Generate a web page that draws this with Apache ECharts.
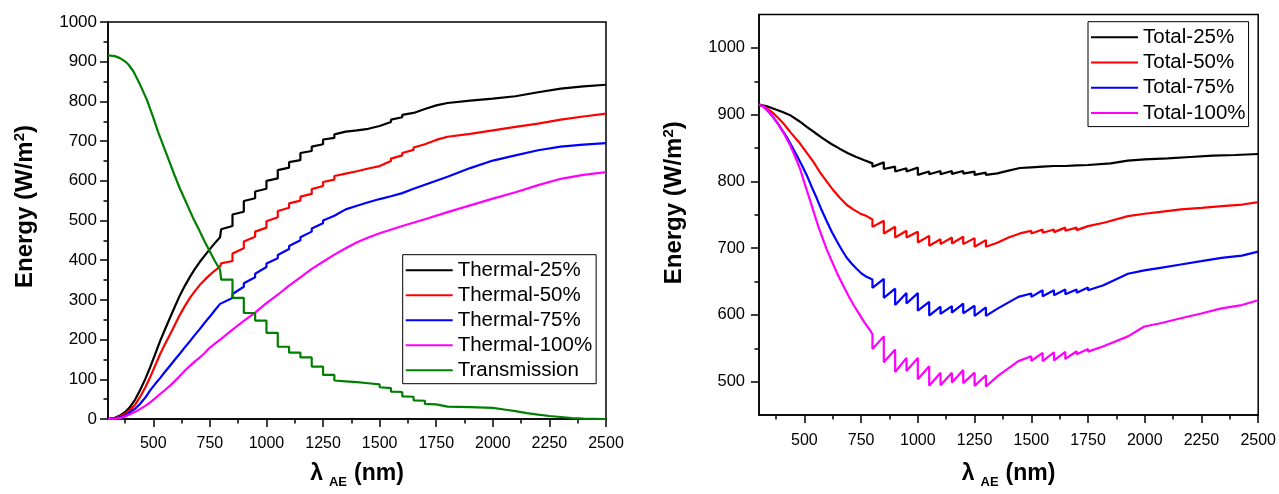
<!DOCTYPE html>
<html>
<head>
<meta charset="utf-8">
<script src="https://cdn.jsdelivr.net/npm/echarts@6/dist/echarts.min.js"></script>
<style>
html,body{margin:0;padding:0;background:#fff;}
#chart{width:1279px;height:494px;}
</style>
</head>
<body>
<div id="chart"></div>
<script>
// ---------- data ----------
const xMajorTicks = [500, 750, 1000, 1250, 1500, 1750, 2000, 2250, 2500];
const xMinorTicks = [375, 625, 875, 1125, 1375, 1625, 1875, 2125, 2375];
const rightYMajor = [500, 600, 700, 800, 900, 1000];
const rightYMinor = [550, 650, 750, 850, 950];

const leftNames = ['Thermal-25%', 'Thermal-50%', 'Thermal-75%', 'Thermal-100%', 'Transmission'];
const rightNames = ['Total-25%', 'Total-50%', 'Total-75%', 'Total-100%'];

const thermal25 = [[300,0],[330,3],[353,9],[375,17],[397,30],[420,49],[441,72],[465,101],[486,130],[508,163],[530,196],[552,226],[574,255],[596,284],[618,312],[640,336],[662,358],[684,378],[706,396],[728,412],[750,428],[772,443],[795,458],
 [800,462],[800,478],[850,486],[850,515],[900,522],[900,549],[950,556],[950,573],[1000,580],[1000,600],[1050,606],[1050,627],
 [1100,633],[1100,647],[1150,652],[1150,670],[1200,675],[1200,686],[1250,692],[1250,704],[1300,708],[1300,717],[1350,724],
 [1400,727],[1450,731],[1500,738],[1500,742],[1550,748],[1550,754],[1600,760],[1600,766],[1650,771],[1650,776],[1700,781],
 [1700,785],[1750,790],[1750,793],[1800,796],[1900,802],[2000,807],[2100,813],[2200,823],[2300,832],[2400,838],[2500,842]];
const thermal50 = [[300,0],[330,2],[353,7],[375,13],[397,22],[420,36],[441,55],[465,80],[486,105],[508,134],[530,163],[552,189],[574,213],[596,238],[618,263],[640,285],[662,305],[684,322],[706,338],[728,351],[750,363],[772,374],[795,384],
 [800,386],[800,392],[850,398],[850,417],[900,430],[900,447],[950,459],[950,472],[1000,482],[1000,498],[1050,508],[1050,524],
 [1100,532],[1100,543],[1150,550],[1150,560],[1200,567],[1200,579],[1250,587],[1250,597],[1300,603],[1300,612],[1350,618],
 [1400,624],[1450,631],[1500,637],[1500,642],[1550,650],[1550,656],[1600,664],[1600,670],[1650,678],[1650,684],[1700,692],
 [1700,697],[1750,703],[1750,707],[1800,711],[1900,718],[2000,727],[2100,736],[2200,744],[2300,754],[2400,762],[2500,769]];
const thermal75 = [[300,0],[330,1.5],[353,4],[375,9],[397,17],[420,26],[441,38],[465,54],[486,72],[508,88],[530,103],[552,119],[574,134],[596,150],[618,165],[640,181],[662,196],[684,212],[706,227],[728,243],[750,258],[772,274],[795,290],
 [800,295],[850,305],[850,315],[900,333],[900,342],[950,357],[950,366],[1000,383],[1000,392],[1050,405],[1050,413],[1100,428],
 [1100,436],[1150,450],[1150,458],[1200,472],[1200,480],[1250,493],[1250,500],[1300,512],[1300,517],[1350,528],[1400,537],
 [1450,546],[1500,554],[1550,561],[1600,569],[1650,580],[1700,590],[1750,600],[1800,610],[1900,632],[2000,651],[2100,664],
 [2200,677],[2300,686],[2400,691],[2500,695]];
const thermal100 = [[300,0],[330,1],[353,2.5],[375,6],[397,12],[420,18],[441,25],[465,33],[486,42],[508,52],[530,63],[552,73],[574,84],[596,96],[618,109],[640,122],[662,134],[684,145],[706,155],[728,167],[750,180],[775,191],[800,202],
 [850,225],[900,247],[950,268],[1000,292],[1050,313],[1100,336],[1150,357],[1200,378],[1250,396],[1300,414],[1350,430],
 [1400,445],[1450,457],[1500,468],[1600,486],[1700,503],[1800,521],[1900,538],[2000,555],[2100,571],[2200,589],[2300,605],
 [2400,615],[2500,622]];
const transmission = [[300,916],[330,914],[353,909],[375,901],[390,893],[412,876],[441,843],[471,805],[497,764],[522,722],[546,686],[570,650],[594,614],[618,580],[648,542],[677,505],[706,472],[728,446],[750,422],[772,398],[795,376],
 [800,376],[800,351],[850,351],[850,305],[900,305],[900,267],[950,267],[950,248],[1000,248],[1000,217],[1050,217],[1050,182],
 [1100,182],[1100,167],[1150,167],[1150,155],[1200,155],[1200,132],[1250,132],[1250,111],[1300,111],[1300,97],[1350,95],
 [1400,93],[1450,90],[1500,87],[1500,80],[1550,78],[1550,69],[1600,68],[1600,57],[1650,56],[1650,47],[1700,46],[1700,38],
 [1750,37],[1750,32],[1800,31],[1900,30],[2000,28],[2050,24],[2100,20],[2150,15],[2200,11],[2250,7.5],[2300,5],[2350,2.5],
 [2400,0.8],[2500,0]];

const total25 = [[300,915],[335,912.5],[368,908.5],[404,904],[440,898.6],[476,890.5],[512,881.4],[548,872.5],[583,864],[619,856],[655,849],[690,842.5],[726,837],[762,832],[800,827],[800,822],[850,828.5],
 [850,818.6],[900,822],[900,814.7],[950,819.6],[950,814.7],[1000,820.6],[1000,809.7],[1050,814.7],[1050,810.7],[1100,815.6],
 [1100,810.7],[1150,815.6],[1150,811.2],[1200,815.6],[1200,811.7],[1250,814.7],[1250,809.7],[1300,813],[1300,809.7],[1350,812],
 [1400,816],[1450,820],[1500,821],[1500,819],[1550,822],[1550,820],[1600,823],[1600,821],[1650,823],[1650,821],[1700,824],
 [1700,822],[1750,824.5],[1750,823],[1850,827],[1925,831],[2000,833],[2100,834.5],[2200,836.5],[2300,838.5],[2400,839.5],[2500,841]];
const total50 = [[300,915],[330,911],[360,903],[385,895],[407,887],[440,873],[480,857],[510,843],[539,829.5],[568,814],[598,800],[627,787],[657,775],[686,765],[715,758],[745,752],[774,748],[800,743],[800,731.8],
 [850,741],[850,722],[900,732],[900,716],[950,726],[950,716],[1000,724.5],[1000,708.5],[1050,718.4],[1050,703.6],[1100,713.4],
 [1100,706],[1150,716],[1150,707],[1200,717],[1200,706],[1250,715],[1250,702],[1300,712],[1300,702],[1350,708],[1400,716],
 [1450,722],[1500,726],[1500,722],[1550,728],[1550,723],[1600,728],[1600,724],[1650,730.7],[1650,726],[1700,730.7],[1700,727],
 [1750,733],[1750,730.7],[1820,738],[1926,748],[2000,751.5],[2070,754.4],[2160,758],[2250,760.4],[2340,763],[2430,765.3],[2500,769]];
const total75 = [[300,915],[320,912],[340,905],[358,898],[378,889],[400,878],[422,866.5],[444,853],[466,839],[488,825],[510,809.7],[532,792],[554,775],[576,757],[598,740.7],[620,725],[642,711],[664,698],[686,686],[708,677],[730,669],
 [752,662],[774,657],[800,653],[800,640.6],[850,654],[850,625.5],[900,639.3],[900,614.7],[950,632.6],[950,617],[1000,632.6],[1000,606.3],
 [1050,619.6],[1050,598.9],[1100,612.2],[1100,601.4],[1150,613.2],[1150,603.3],[1200,617],[1200,602.3],[1250,613.7],[1250,598.4],
 [1300,611.2],[1300,598.4],[1353,609.7],[1443,627],[1500,632],[1500,627],[1550,637],[1550,628],[1600,637],[1600,629.5],
 [1650,638],[1650,631],[1700,638],[1700,633],[1750,641],[1750,637],[1818,644.4],[1926,661.6],[1998,666.6],[2069,670.5],
 [2159,675.5],[2249,680.4],[2338,685.3],[2428,688.8],[2500,694.7]];
const total100 = [[300,915],[320,912],[340,906],[366,895],[392,882],[414,869],[436,855],[458,838],[480,819.6],[502,796],[524,772.7],[543,752],[561,733],[580,715],[598,698.6],[620,681],[642,664],[668,646],[693,629.5],[718,614],
 [744,600],[766,588],[788,577.7],[800,571],[800,549],[850,567.8],[850,529],[900,548],[900,514.4],[950,535.6],[950,516],[1000,535.6],
 [1000,503.6],[1050,523],[1050,493.7],[1100,513.4],[1100,494.7],[1150,513.4],[1150,498.6],[1200,517.4],[1200,497.7],[1250,513.4],
 [1250,493.7],[1300,509.5],[1300,492.7],[1353,508.5],[1443,530.7],[1500,538],[1500,531],[1550,543],[1550,530.7],[1600,544],
 [1600,531.7],[1650,544.5],[1650,534],[1700,545.5],[1700,541],[1750,549],[1750,545],[1818,553],[1926,567.8],[1998,582.6],
 [2069,587.5],[2159,595],[2249,602],[2338,609.7],[2428,614.7],[2500,622]];

// ---------- styling ----------
const FONT = 'Liberation Sans, Arial, Helvetica, sans-serif';
const leftColors = ['#000000', '#ff0000', '#0000ff', '#ff00ff', '#008000'];
const rightColors = ['#000000', '#ff0000', '#0000ff', '#ff00ff'];
const plainNum = function (v) { return String(v); };

function yName(shift) {
  return {
    name: '{a|Energy (W/m}{b|2}{a|)}',
    nameLocation: 'middle',
    nameTextStyle: {
      color: '#000', fontFamily: FONT, padding: [0, 0, 0, shift],
      rich: {
        a: { fontSize: 24, fontWeight: 'bold', lineHeight: 26, fontFamily: FONT, color: '#000' },
        b: { fontSize: 15, fontWeight: 'bold', lineHeight: 15, verticalAlign: 'top', fontFamily: FONT, color: '#000' }
      }
    }
  };
}

function xMain(gridIndex, labelMargin, nameGap) {
  return {
    type: 'value', gridIndex: gridIndex, position: 'bottom', min: 300, max: 2500,
    axisLine: { show: true, lineStyle: { color: '#000', width: 1.5 } },
    axisTick: { show: true, inside: false, length: 8, customValues: xMajorTicks, lineStyle: { color: '#000', width: 1.5 } },
    axisLabel: { show: true, customValues: xMajorTicks, formatter: plainNum, margin: labelMargin, color: '#000', fontSize: 16, fontFamily: FONT },
    splitLine: { show: false },
    name: '{l|λ}{s|AE}{n|(nm)}',
    nameLocation: 'middle', nameGap: nameGap,
    nameTextStyle: {
      color: '#000', fontFamily: FONT,
      rich: {
        l: { fontSize: 23, fontWeight: 'bold', lineHeight: 30, fontFamily: FONT, color: '#000', padding: [0, 6, 0, 0] },
        s: { fontSize: 13, fontWeight: 'bold', lineHeight: 13, verticalAlign: 'bottom', fontFamily: FONT, color: '#000', padding: [0, 7, 0, 0] },
        n: { fontSize: 23, fontWeight: 'bold', lineHeight: 30, fontFamily: FONT, color: '#000' }
      }
    }
  };
}
function xMinor(gridIndex) {
  return {
    type: 'value', gridIndex: gridIndex, position: 'bottom', offset: 0, min: 300, max: 2500,
    axisLine: { show: false },
    axisTick: { show: true, inside: false, length: 4.5, customValues: xMinorTicks, lineStyle: { color: '#000', width: 1.5 } },
    axisLabel: { show: false },
    splitLine: { show: false }
  };
}
function lineSeries(name, data, color, xi, yi) {
  return {
    name: name, type: 'line', data: data, xAxisIndex: xi, yAxisIndex: yi,
    symbol: 'none', showSymbol: false, animation: false, silent: true,
    lineStyle: { color: color, width: 2.2 }, itemStyle: { color: color }
  };
}

const leftSeriesData = [thermal25, thermal50, thermal75, thermal100, transmission];
const rightSeriesData = [total25, total50, total75, total100];
const series = [];
leftNames.forEach((n, i) => series.push(lineSeries(n, leftSeriesData[i], leftColors[i], 0, 0)));
rightNames.forEach((n, i) => series.push(lineSeries(n, rightSeriesData[i], rightColors[i], 2, 1)));

const legendCommon = {
  orient: 'vertical', show: true, selectedMode: false,
  backgroundColor: '#fff', borderColor: '#000', borderWidth: 1,
  icon: 'rect', itemWidth: 47, itemHeight: 2, itemGap: 4,
  textStyle: { fontSize: 20.5, fontFamily: FONT, color: '#000', lineHeight: 20 }
};

const option = {
  animation: false,
  backgroundColor: '#ffffff',
  grid: [
    { left: 108, top: 22, width: 498, height: 400, show: true, borderColor: '#000', borderWidth: 1.5, backgroundColor: 'transparent' },
    { left: 759, top: 14.5, width: 500, height: 405, show: true, borderColor: '#000', borderWidth: 1.5, backgroundColor: 'transparent' }
  ],
  legend: [
    Object.assign({}, legendCommon, { data: leftNames, left: 402.7, top: 254.7, padding: [5, 4, 3, 3] }),
    Object.assign({}, legendCommon, { data: rightNames, left: 1088, top: 21.7, itemGap: 4.3, padding: [5, 3, 3, 3] })
  ],
  xAxis: [ xMain(0, 17, 40), xMinor(0), xMain(1, 18, 44), xMinor(1) ],
  yAxis: [
    Object.assign({
      type: 'value', gridIndex: 0, min: 0, max: 1000, interval: 100,
      axisLine: { show: true, lineStyle: { color: '#000', width: 1.5 } },
      axisTick: { show: true, inside: false, length: 8, lineStyle: { color: '#000', width: 1.5 } },
      minorTick: { show: true, splitNumber: 2, length: 4.5, lineStyle: { color: '#000', width: 1.5 } },
      axisLabel: { margin: 11, color: '#000', fontSize: 17, fontFamily: FONT, formatter: plainNum },
      splitLine: { show: false }, minorSplitLine: { show: false },
      nameGap: 70
    }, yName(28)),
    Object.assign({
      type: 'value', gridIndex: 1, position: 'left', min: 450, max: 1050,
      axisLine: { show: true, lineStyle: { color: '#000', width: 1.5 } },
      axisTick: { show: true, inside: false, length: 8, customValues: rightYMajor, lineStyle: { color: '#000', width: 1.5 } },
      axisLabel: { margin: 14, color: '#000', fontSize: 16.5, fontFamily: FONT, customValues: rightYMajor, formatter: plainNum },
      splitLine: { show: false },
      nameGap: 72
    }, yName(24)),
    {
      type: 'value', gridIndex: 1, position: 'left', offset: 0, min: 450, max: 1050,
      axisLine: { show: false },
      axisTick: { show: true, inside: false, length: 4.5, customValues: rightYMinor, lineStyle: { color: '#000', width: 1.5 } },
      axisLabel: { show: false },
      splitLine: { show: false }
    }
  ],
  series: series
};

const chart = echarts.init(document.getElementById('chart'), null, { renderer: 'canvas' });
chart.setOption(option);
</script>
</body>
</html>
